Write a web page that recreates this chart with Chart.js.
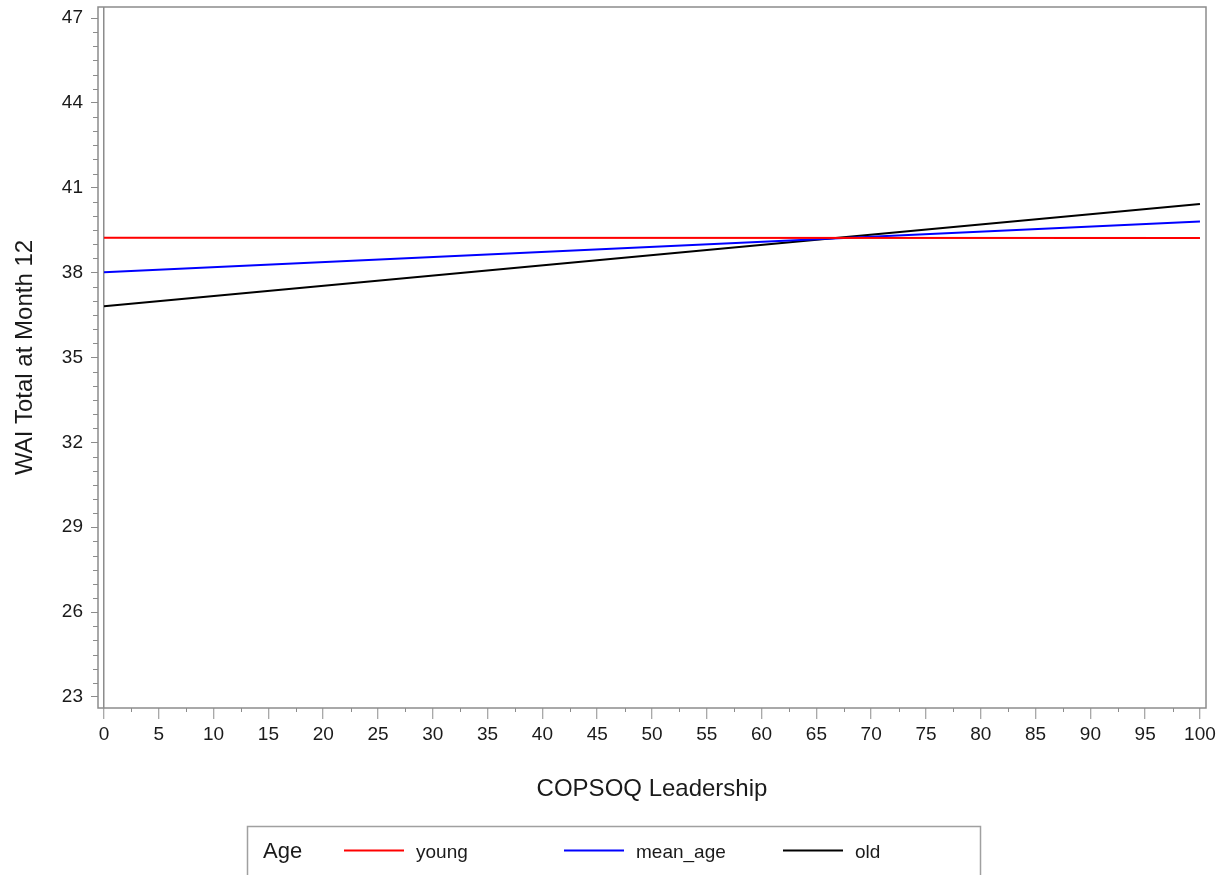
<!DOCTYPE html>
<html>
<head>
<meta charset="utf-8">
<script src="https://cdn.jsdelivr.net/npm/chart.js@4/dist/chart.umd.min.js"></script>
<style>
  body { margin: 0; background: #fff; }
  canvas { display: block; }
</style>
</head>
<body>
<canvas id="chart" width="1220" height="875"></canvas>
<script>
// values
const leadership = [0, 100];
const young = [39.23, 39.22];
const meanAge = [38.01, 39.81];
const old = [36.81, 40.43];

const seriesNames = ['young', 'mean_age', 'old'];
const seriesColors = ['#ff0000', '#0000ff', '#000000'];

const xTicks = [0, 5, 10, 15, 20, 25, 30, 35, 40, 45, 50, 55, 60, 65, 70, 75, 80, 85, 90, 95, 100];
const yTicks = [23, 26, 29, 32, 35, 38, 41, 44, 47];
const xMinorStep = 2.5;
const yMinorStep = 0.5;

const legendTitle = 'Age';
const xTitle = 'COPSOQ Leadership';
const yTitle = 'WAI Total at Month 12';

const FONT = "'Liberation Sans', Arial, sans-serif";
const frameColor = '#8c8c8c';
const textColor = '#1a1a1a';

function toPoints(ys) {
    return leadership.map((x, i) => ({ x: x, y: ys[i] }));
}

// frame, minor ticks and the legend box
const extras = {
    id: 'extras',
    afterDraw(chart) {
        const ctx = chart.ctx;
        const area = chart.chartArea;
        const xs = chart.scales.x;
        const ys = chart.scales.y;

        ctx.save();
        ctx.strokeStyle = frameColor;
        ctx.lineWidth = 1.5;
        ctx.strokeRect(area.left, area.top, area.right - area.left, area.bottom - area.top);

        // minor ticks
        ctx.lineWidth = 1;
        ctx.beginPath();
        for (let v = xTicks[0]; v <= xTicks[xTicks.length - 1] + 1e-9; v += xMinorStep) {
            if (xTicks.includes(v)) continue;
            const px = Math.round(xs.getPixelForValue(v)) + 0.5;
            ctx.moveTo(px, area.bottom);
            ctx.lineTo(px, area.bottom + 4);
        }
        for (let v = yTicks[0]; v <= yTicks[yTicks.length - 1] + 1e-9; v += yMinorStep) {
            if (yTicks.some(t => Math.abs(t - v) < 1e-9)) continue;
            const py = Math.round(ys.getPixelForValue(v)) + 0.5;
            ctx.moveTo(area.left - 5, py);
            ctx.lineTo(area.left, py);
        }
        ctx.stroke();

        // legend
        ctx.lineWidth = 1.5;
        ctx.strokeStyle = '#a0a0a0';
        ctx.strokeRect(247.5, 826.5, 733, 60);

        ctx.fillStyle = textColor;
        ctx.textBaseline = 'alphabetic';
        ctx.textAlign = 'left';
        ctx.font = '22px ' + FONT;
        ctx.fillText(legendTitle, 263, 858);

        const lineStarts = [344, 564, 783];
        ctx.font = '19px ' + FONT;
        chart.data.datasets.forEach((ds, i) => {
            const x0 = lineStarts[i];
            ctx.strokeStyle = ds.borderColor;
            ctx.lineWidth = 2;
            ctx.beginPath();
            ctx.moveTo(x0, 850.5);
            ctx.lineTo(x0 + 60, 850.5);
            ctx.stroke();
            ctx.fillStyle = textColor;
            ctx.fillText(ds.label, x0 + 72, 858);
        });
        ctx.restore();
    }
};

new Chart(document.getElementById('chart'), {
    type: 'line',
    data: {
        datasets: [young, meanAge, old].map((ys, i) => ({
            label: seriesNames[i],
            data: toPoints(ys),
            borderColor: seriesColors[i],
            backgroundColor: seriesColors[i],
            borderWidth: 2,
            pointRadius: 0,
            tension: 0,
            fill: false
        }))
    },
    options: {
        responsive: false,
        animation: false,
        devicePixelRatio: 1,
        layout: { padding: { top: 7, right: 14, left: 0, bottom: 0 } },
        plugins: {
            legend: { display: false },
            tooltip: { enabled: false }
        },
        scales: {
            x: {
                type: 'linear',
                min: -0.55,
                max: 100.55,
                afterBuildTicks: (scale) => { scale.ticks = xTicks.map(v => ({ value: v })); },
                afterFit: (scale) => {
                    scale.height = 167;
                    scale.paddingLeft = 0;
                    scale.paddingRight = 0;
                },
                border: { display: false },
                grid: {
                    drawOnChartArea: true,
                    drawTicks: true,
                    tickLength: 11,
                    color: (c) => (c.tick && c.tick.value === 0 ? frameColor : 'rgba(0,0,0,0)'),
                    tickColor: frameColor,
                    lineWidth: 1.5,
                    tickWidth: 1
                },
                ticks: {
                    autoSkip: false,
                    maxRotation: 0,
                    padding: 4,
                    color: textColor,
                    font: { family: FONT, size: 19 }
                },
                title: {
                    display: true,
                    text: xTitle,
                    color: textColor,
                    font: { family: FONT, size: 24 },
                    padding: { top: 0, bottom: 71 }
                }
            },
            y: {
                type: 'linear',
                min: 22.61,
                max: 47.39,
                afterBuildTicks: (scale) => { scale.ticks = yTicks.map(v => ({ value: v })); },
                afterFit: (scale) => {
                    scale.width = 98;
                    scale.paddingTop = 0;
                    scale.paddingBottom = 0;
                },
                border: { display: false },
                grid: {
                    drawOnChartArea: false,
                    drawTicks: true,
                    tickLength: 7,
                    tickColor: frameColor,
                    tickWidth: 1
                },
                ticks: {
                    autoSkip: false,
                    padding: 8,
                    color: textColor,
                    font: { family: FONT, size: 19 }
                },
                title: {
                    display: true,
                    text: yTitle,
                    color: textColor,
                    font: { family: FONT, size: 24 },
                    padding: { top: 11, bottom: 0 }
                }
            }
        }
    },
    plugins: [extras]
});
</script>
</body>
</html>
